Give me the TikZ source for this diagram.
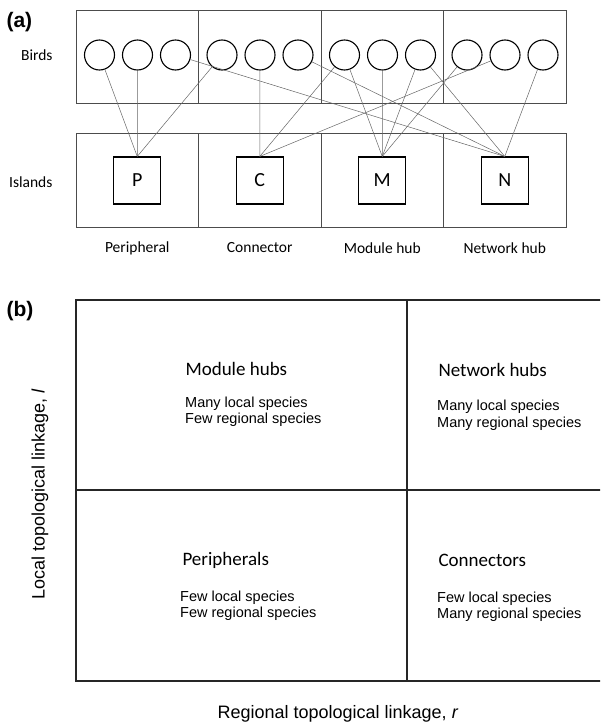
\documentclass[tikz,border=0pt]{standalone}
\usepackage{fontspec}
\setmainfont{Carlito}
\newfontfamily\arial{Liberation Sans}
\begin{document}
\begin{tikzpicture}[x=1pt,y=-1pt,
  panelbox/.style={draw=black!70,line width=0.8pt},
  bird/.style={circle,draw=black,line width=1.1pt,minimum size=30pt,inner sep=0pt},
  island/.style={rectangle,draw=black,line width=1.1pt,minimum size=47pt,inner sep=0pt,font=\fontsize{20}{24}\selectfont},
  link/.style={draw=black!60,line width=0.5pt},
  rowlabel/.style={anchor=east,font=\fontsize{15.5}{18}\selectfont},
  collabel/.style={font=\fontsize{15.5}{18}\selectfont},
  panellabel/.style={anchor=west,font=\arial\bfseries\fontsize{21}{24}\selectfont},
  quadhead/.style={anchor=west,font=\fontsize{19}{22}\selectfont},
  quadtext/.style={anchor=west,align=left,inner sep=0pt,font=\arial\fontsize{14.5}{16.5}\selectfont},
  axislabel/.style={font=\arial\fontsize{18}{21}\selectfont},
  quadline/.style={draw=black!85,line width=1.2pt}]
\useasboundingbox (0,0) rectangle (600,728);

% ---------- panel (a) ----------
\node[panellabel] (la) at (3,22) {(a)};
\node[rowlabel] (lbirds) at (56,55) {Birds};
\node[rowlabel] (lislands) at (56,182) {Islands};

% birds and islands frames
\draw[panelbox] (76,10) rectangle (566,103);
\draw[panelbox] (76,133) rectangle (566,227);
\foreach \x in {198.5,321,443.5} {
  \draw[panelbox] (\x,10) -- (\x,103);
  \draw[panelbox] (\x,133) -- (\x,227);
}

% bird circles, three per column
\foreach \c [count=\ci from 0] in {76,198.5,321,443.5} {
  \foreach \k in {0,1,2} {
    \pgfmathtruncatemacro{\idx}{3*\ci+\k+1}
    \node[bird] (b\idx) at (\c+23.5+38*\k,55) {};
  }
}

% island squares
\node[island] (P) at (137.25,180.5) {P};
\node[island] (C) at (259.75,180.5) {C};
\node[island] (M) at (382.25,180.5) {M};
\node[island] (N) at (504.75,180.5) {N};

% column captions
\node[collabel] (cp) at (137.25,248) {Peripheral};
\node[collabel] (cc) at (259.75,248) {Connector};
\node[collabel] (cm) at (382.25,248) {Module hub};
\node[collabel] (cn) at (504.75,248) {Network hub};

% bird-island links
\foreach \b in {1,2,4} \draw[link] (b\b) -- (P.north);
\foreach \b in {5,7,11} \draw[link] (b\b) -- (C.north);
\foreach \b in {7,8,9,10} \draw[link] (b\b) -- (M.north);
\foreach \b in {3,6,9,12} \draw[link] (b\b) -- (N.north);

% ---------- panel (b) ----------
\node[panellabel] (lb) at (3,311) {(b)};
\begin{scope}
  \clip (0,0) rectangle (600,728);
  \draw[quadline] (76,300) rectangle (612,681);
  \draw[quadline] (76,490) -- (612,490);
  \draw[quadline] (407,300) -- (407,681);
\end{scope}

\node[quadhead] (hmod) at (182,369) {Module hubs};
\node[quadtext] (tmod) at (185,411.5) {Many local species\\Few regional species};
\node[quadhead] (hnet) at (435,370) {Network hubs};
\node[quadtext] (tnet) at (437,415) {Many local species\\Many regional species};
\node[quadhead] (hper) at (179,560) {Peripherals};
\node[quadtext] (tper) at (180,605.5) {Few local species\\Few regional species};
\node[quadhead] (hcon) at (435,560) {Connectors};
\node[quadtext] (tcon) at (437,606.5) {Few local species\\Many regional species};

\node[axislabel,rotate=90] (ylab) at (40,494) {Local topological linkage, \textit{l}};
\node[axislabel] (xlab) at (338,714) {Regional topological linkage, \textit{r}};
\end{tikzpicture}
\end{document}
